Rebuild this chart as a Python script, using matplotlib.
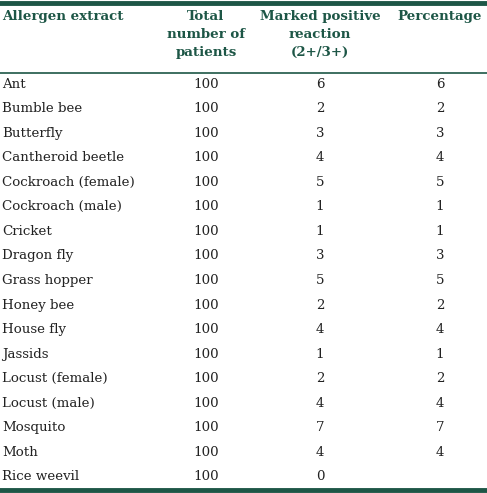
import matplotlib
matplotlib.use("Agg")
import matplotlib.pyplot as plt

allergens = ["Ant","Bumble bee","Butterfly","Cantheroid beetle","Cockroach (female)","Cockroach (male)",
             "Cricket","Dragon fly","Grass hopper","Honey bee","House fly","Jassids","Locust (female)",
             "Locust (male)","Mosquito","Moth","Rice weevil"]
total = [100]*17
positive = [6,2,3,4,5,1,1,3,5,2,4,1,2,4,7,4,0]
percentage = ["6","2","3","4","5","1","1","3","5","2","4","1","2","4","7","4",""]
headers = ["Allergen extract","Total\nnumber of\npatients","Marked positive\nreaction\n(2+/3+)","Percentage"]

green = "#1d5646"
fig = plt.figure(figsize=(4.87,4.93), dpi=100)
ax = fig.add_axes([0,0,1,1])
ax.set_xlim(0,487); ax.set_ylim(493,0); ax.axis("off")
font = dict(family="DejaVu Serif", fontsize=9.6)

ax.plot([0,487],[2.5,2.5],color=green,lw=3.5)
ax.plot([0,487],[73,73],color=green,lw=1.2)
ax.plot([0,487],[490,490],color=green,lw=3.5)

hx = [2,206,320,440]
ha = ["left","center","center","center"]
for x,h,a in zip(hx,headers,ha):
    ax.text(x,10,h,ha=a,va="top",color=green,fontweight="bold",linespacing=1.5,**font)

y0, dy = 84, 24.56
for i,(n,t,p,pc) in enumerate(zip(allergens,total,positive,percentage)):
    y = y0+i*dy
    ax.text(2,y,n,ha="left",va="center",color="#222",**font)
    ax.text(206,y,str(t),ha="center",va="center",color="#222",**font)
    ax.text(320,y,str(p),ha="center",va="center",color="#222",**font)
    ax.text(440,y,pc,ha="center",va="center",color="#222",**font)

fig.savefig("out.png",dpi=100)
